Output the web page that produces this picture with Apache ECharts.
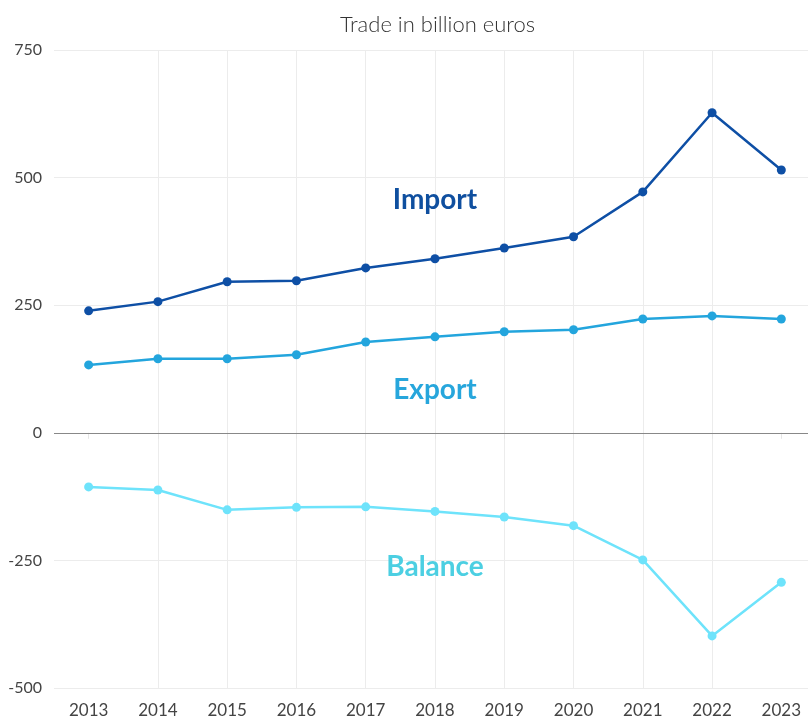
<!DOCTYPE html>
<html>
<head>
<meta charset="utf-8">
<script src="https://cdn.jsdelivr.net/npm/echarts@6/dist/echarts.min.js"></script>
<style>
  html, body { margin: 0; padding: 0; background: #fff; }
  #main { width: 808px; height: 719px; }
</style>
</head>
<body>
<div id="main"></div>
<script>
// data
var years = [2013, 2014, 2015, 2016, 2017, 2018, 2019, 2020, 2021, 2022, 2023];
var importVals = [239, 257, 296, 298, 323, 341, 362, 384, 472, 627, 515];
var exportVals = [133, 145, 145, 153, 178, 188, 198, 202, 223, 229, 223];
var balanceVals = [-106, -112, -151, -146, -145, -154, -165, -182, -249, -398, -293];
var yTicks = [-500, -250, 0, 250, 500, 750];

function pairs(vals) {
  return years.map(function (y, i) { return [y, vals[i]]; });
}

var chart = echarts.init(document.getElementById('main'));
var font = 'Lato, "Open Sans", sans-serif';

chart.setOption({
  animation: false,
  title: {
    text: 'Trade in billion euros',
    left: 335,
    top: 9,
    textStyle: { fontFamily: font, fontWeight: 300, fontSize: 22, color: '#333' }
  },
  grid: { left: 54, right: 0, top: 50, bottom: 31 },
  xAxis: {
    type: 'value',
    min: 2012.5,
    max: 2023.385,   // last year half a band in, the plot runs off the right edge
    interval: 1,
    axisLine: { show: false },
    axisTick: { show: true, length: 6, lineStyle: { color: '#e6e6e6' }, customValues: years },
    axisLabel: {
      customValues: years,
      margin: 14,
      fontFamily: font, fontSize: 17, color: '#444',
      formatter: function (v) { return Number.isInteger(v) ? String(v) : ''; }
    },
    splitLine: { show: true, showMinLine: false, showMaxLine: false, lineStyle: { color: '#ececec' } }
  },
  yAxis: {
    type: 'value',
    min: yTicks[0],
    max: yTicks[yTicks.length - 1],
    interval: 250,
    axisLine: { show: false },
    axisTick: { show: false },
    axisLabel: { margin: 12, fontFamily: font, fontSize: 16, color: '#444' },
    splitLine: { lineStyle: { color: '#ececec' } }
  },
  series: [
    {
      name: 'Import', type: 'line', data: pairs(importVals),
      symbol: 'circle', symbolSize: 9,
      itemStyle: { color: '#0e4fa5' }, lineStyle: { width: 2.5, color: '#0e4fa5' },
      z: 5
    },
    {
      name: 'Export', type: 'line', data: pairs(exportVals),
      symbol: 'circle', symbolSize: 9,
      itemStyle: { color: '#23a5dd' }, lineStyle: { width: 2.5, color: '#23a5dd' },
      z: 5
    },
    {
      name: 'Balance', type: 'line', data: pairs(balanceVals),
      symbol: 'circle', symbolSize: 9,
      itemStyle: { color: '#6ee3fb' }, lineStyle: { width: 2.5, color: '#6ee3fb' },
      z: 5,
      markLine: {
        silent: true, symbol: 'none', label: { show: false },
        lineStyle: { color: '#888', width: 1.2, type: 'solid' },
        data: [{ yAxis: 0 }]
      }
    }
  ],
  graphic: [
    { type: 'text', z: 100, x: 435, y: 200, style: { text: 'Import', fill: '#0f4f9f', font: 'bold 28px Lato, sans-serif', align: 'center', verticalAlign: 'middle' } },
    { type: 'text', z: 100, x: 435, y: 390, style: { text: 'Export', fill: '#27a6dc', font: 'bold 28px Lato, sans-serif', align: 'center', verticalAlign: 'middle' } },
    { type: 'text', z: 100, x: 435, y: 567, style: { text: 'Balance', fill: '#4ccfe2', font: 'bold 28px Lato, sans-serif', align: 'center', verticalAlign: 'middle' } }
  ]
});
</script>
</body>
</html>
